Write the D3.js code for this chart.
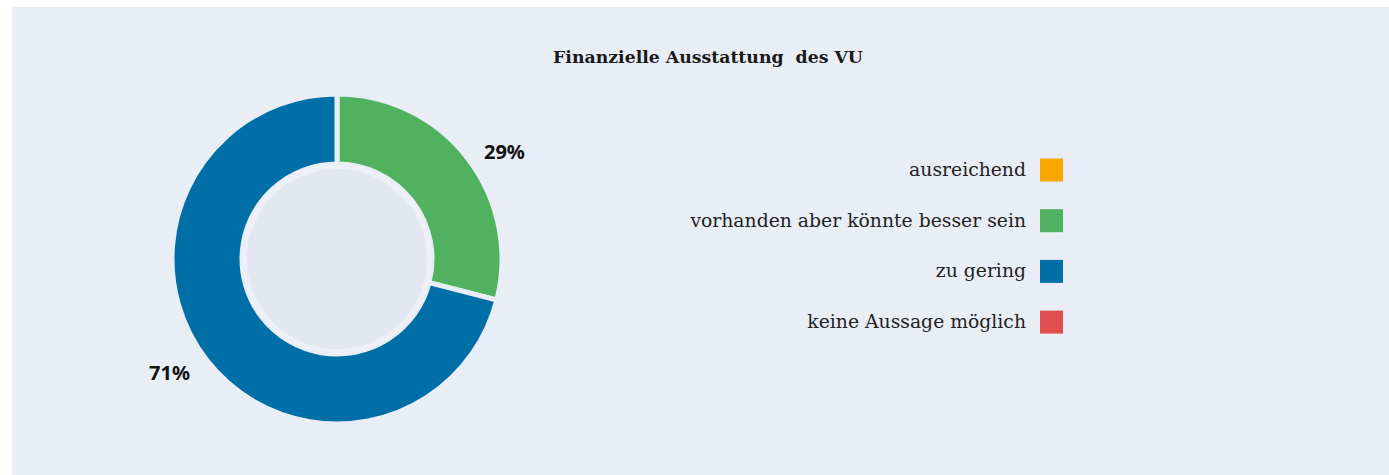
<!DOCTYPE html>
<html>
<head>
<meta charset="utf-8">
<script src="https://cdn.jsdelivr.net/npm/d3@7"></script>
<style>
  body { margin: 0; background: #fff; }
  svg { display: block; }
</style>
</head>
<body>
<div class="container"></div>
<script>
const categories = ["ausreichend", "vorhanden aber könnte besser sein", "zu gering", "keine Aussage möglich"];
const values = [0, 29, 71, 0];
const colors = ["#f8a800", "#50b25e", "#006fa7", "#e14f4f"];
const title = "Finanzielle Ausstattung  des VU";

const w = 1389;
const h = 475;
const bg = "#e9edf6";
const cx = 337;
const cy = 259;
const outerR = 165;
const innerR = 95;

const svg = d3.select(".container")
              .append("svg")
              .attr("width", w)
              .attr("height", h);

// panel
svg.append("rect")
   .attr("x", 12)
   .attr("y", 7)
   .attr("width", w - 12)
   .attr("height", h - 7)
   .attr("fill", bg);

svg.append("text")
   .attr("x", 708)
   .attr("y", 63)
   .attr("text-anchor", "middle")
   .style("white-space", "pre")
   .style("font-family", "DejaVu Serif")
   .style("font-weight", "bold")
   .style("font-size", "17.3px")
   .attr("fill", "#1a1a1a")
   .text(title);

const data = categories.map((c, i) => ({name: c, value: values[i], color: colors[i]}));

const pie = d3.pie()
              .value(d => d.value)
              .sort(null);

const arc = d3.arc()
              .innerRadius(innerR)
              .outerRadius(outerR);

const labelArc = d3.arc()
              .innerRadius(186)
              .outerRadius(186);

const g = svg.append("g")
             .attr("transform", "translate(" + cx + "," + cy + ")");

const arcs = pie(data).filter(d => d.data.value > 0);

g.selectAll("path")
 .data(arcs)
 .enter()
 .append("path")
 .attr("d", arc)
 .attr("fill", d => d.data.color)
 .attr("stroke", bg)
 .attr("stroke-width", 5);

// inner disc
g.append("circle")
 .attr("r", 92.5)
 .attr("fill", "#e3e7f0")
 .attr("stroke", "#edf0f7")
 .attr("stroke-width", 5);

const rightSide = d => (d.startAngle + d.endAngle) / 2 < Math.PI;

g.selectAll(".lbl")
 .data(arcs)
 .enter()
 .append("text")
 .attr("class", "lbl")
 .attr("transform", d => "translate(" + labelArc.centroid(d) + ")")
 .attr("text-anchor", d => rightSide(d) ? "start" : "end")
 .attr("dy", d => rightSide(d) ? "0.7em" : "0.35em")
 .style("font-family", "Noto Sans")
 .style("font-weight", "bold")
 .style("font-size", "20px")
 .attr("fill", "#111")
 .text(d => d.data.value + "%");

// legend
const legend = svg.append("g")
                  .attr("transform", "translate(1063,170)");

const rows = legend.selectAll("g")
                   .data(data)
                   .enter()
                   .append("g")
                   .attr("transform", (d, i) => "translate(0," + i * 50.7 + ")");

rows.append("rect")
    .attr("x", -23)
    .attr("y", -11.5)
    .attr("width", 23)
    .attr("height", 23)
    .attr("fill", d => d.color);

rows.append("text")
    .attr("x", -37)
    .attr("dy", "0.32em")
    .attr("text-anchor", "end")
    .style("font-family", "DejaVu Serif")
    .style("font-size", "18.8px")
    .attr("fill", "#222")
    .text(d => d.name);
</script>
</body>
</html>
